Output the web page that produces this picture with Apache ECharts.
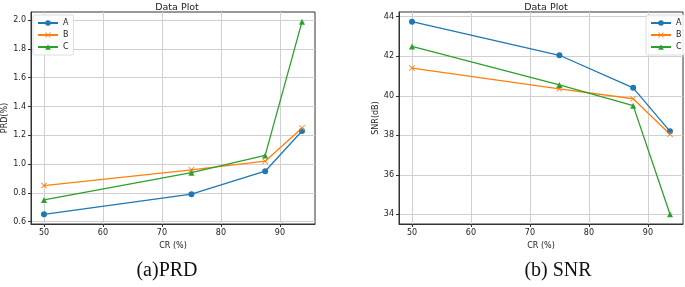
<!DOCTYPE html>
<html lang="en">
<head>
	<meta charset="UTF-8">
	<title>Data Plot</title>
	<style>
	body, div {
		margin: 0;
		padding: 0;
	}
	#echart {
		width: 685px;
		height: 287px;
		background: #fff;
	}
	</style>
</head>
<body>
	<div id="echart"></div>

	<script src="https://cdn.jsdelivr.net/npm/echarts@6/dist/echarts.min.js"></script>

	<script>
	// data
	var crValues = [50, 75, 87.5, 93.75];
	var seriesNames = ['A', 'B', 'C'];

	var prdA = [0.65, 0.79, 0.95, 1.23];
	var prdB = [0.85, 0.96, 1.02, 1.25];
	var prdC = [0.75, 0.94, 1.06, 1.99];

	var snrA = [43.75, 42.05, 40.4, 38.2];
	var snrB = [41.4, 40.35, 39.85, 38.05];
	var snrC = [42.5, 40.55, 39.5, 34.0];

	var xTicks = [50, 60, 70, 80, 90];
	var prdTicks = [0.6, 0.8, 1.0, 1.2, 1.4, 1.6, 1.8, 2.0];
	var snrTicks = [34, 36, 38, 40, 42, 44];

	var colors = ['#1f77b4', '#ff7f0e', '#2ca02c'];
	var crossPath = 'path://M0,1L1,0L5,4L9,0L10,1L6,5L10,9L9,10L5,6L1,10L0,9L4,5Z';
	var symbols = ['circle', crossPath, 'triangle'];
	var font = 'DejaVu Sans';

	function pairs(ys) {
		return ys.map(function (y, i) {
			return [crValues[i], y];
		});
	}

	function makeXAxis(idx) {
		return {
			type: 'value',
			gridIndex: idx,
			min: 47.8,
			max: 95.95,
			name: 'CR (%)',
			nameLocation: 'middle',
			nameGap: 18,
			nameTextStyle: { fontFamily: font, fontSize: 8, color: '#222' },
			axisLine: { show: true, onZero: false, lineStyle: { color: '#333', width: 1 } },
			axisTick: { show: true, length: 3, customValues: xTicks, lineStyle: { color: '#333' } },
			axisLabel: { customValues: xTicks, fontFamily: font, fontSize: 8, color: '#222', margin: 5 },
			splitLine: { show: true, lineStyle: { color: '#d0d0d0', width: 1 } }
		};
	}

	function makeYAxis(idx, name, min, max, ticks, digits) {
		return {
			type: 'value',
			gridIndex: idx,
			min: min,
			max: max,
			name: name,
			nameLocation: 'middle',
			nameGap: idx === 0 ? 22 : 19,
			nameTextStyle: { fontFamily: font, fontSize: 8, color: '#222' },
			axisLine: { show: true, onZero: false, lineStyle: { color: '#333', width: 1 } },
			axisTick: { show: true, length: 3, customValues: ticks, lineStyle: { color: '#333' } },
			axisLabel: {
				customValues: ticks,
				fontFamily: font,
				fontSize: 8,
				color: '#222',
				margin: 5,
				formatter: function (v) { return v.toFixed(digits); }
			},
			splitLine: { show: true, lineStyle: { color: '#d0d0d0', width: 1 } }
		};
	}

	var series = [];
	var prdData = [prdA, prdB, prdC];
	var snrData = [snrA, snrB, snrC];
	[prdData, snrData].forEach(function (group, g) {
		group.forEach(function (vals, i) {
			series.push({
				name: seriesNames[i],
				type: 'line',
				xAxisIndex: g,
				yAxisIndex: g,
				data: pairs(vals),
				symbol: symbols[i],
				symbolSize: 6,
				showAllSymbol: true,
				color: colors[i],
				lineStyle: { width: 1.3, color: colors[i] },
				itemStyle: { color: colors[i] },
				animation: false
			});
		});
	});

	function makeLegend(pos) {
		return Object.assign({
			data: seriesNames,
			orient: 'vertical',
			itemWidth: 20,
			itemHeight: 7,
			itemGap: 4,
			padding: [4, 5, 4, 4],
			backgroundColor: 'rgba(255,255,255,0.85)',
			borderColor: '#ddd',
			borderWidth: 1,
			borderRadius: 2,
			textStyle: { fontFamily: font, fontSize: 8, color: '#222' },
			selectedMode: false
		}, pos);
	}

	var myEchart = echarts.init(document.getElementById('echart'));

	var option = {
		backgroundColor: '#fff',
		animation: false,
		title: [
			{ text: 'Data Plot', left: 172, top: -2, textAlign: 'center',
			  textStyle: { fontFamily: font, fontSize: 9.5, fontWeight: 'normal', color: '#222' } },
			{ text: 'Data Plot', left: 541, top: -2, textAlign: 'center',
			  textStyle: { fontFamily: font, fontSize: 9.5, fontWeight: 'normal', color: '#222' } },
			{ text: '(a)PRD', left: 162, top: 256, textAlign: 'center',
			  textStyle: { fontFamily: 'Liberation Serif', fontSize: 20, fontWeight: 'normal', color: '#111' } },
			{ text: '(b) SNR', left: 553, top: 256, textAlign: 'center',
			  textStyle: { fontFamily: 'Liberation Serif', fontSize: 20, fontWeight: 'normal', color: '#111' } }
		],
		legend: [
			makeLegend({ left: 33, top: 15 }),
			makeLegend({ left: 646, top: 15 })
		],
		grid: [
			{ left: 30, top: 12, width: 285, height: 212, show: true, borderColor: '#333', borderWidth: 1, backgroundColor: 'transparent' },
			{ left: 399, top: 12, width: 284, height: 212, show: true, borderColor: '#333', borderWidth: 1, backgroundColor: 'transparent' }
		],
		xAxis: [makeXAxis(0), makeXAxis(1)],
		yAxis: [
			makeYAxis(0, 'PRD(%)', 0.583, 2.057, prdTicks, 1),
			makeYAxis(1, 'SNR(dB)', 33.51, 44.24, snrTicks, 0)
		],
		series: series
	};

	myEchart.setOption(option);
	</script>
</body>
</html>
